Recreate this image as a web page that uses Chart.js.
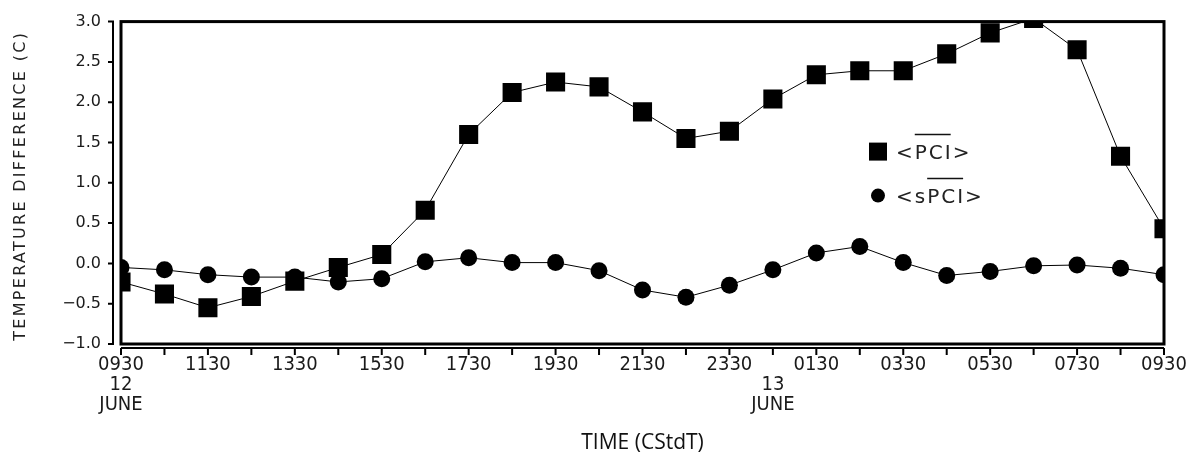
<!DOCTYPE html>
<html>
<head>
<meta charset="utf-8">
<script src="https://cdn.jsdelivr.net/npm/chart.js@4"></script>
<style>
  html, body { margin: 0; padding: 0; background: #fff; }
  #wrap { width: 1201px; height: 456px; }
</style>
</head>
<body>
<div id="wrap"><canvas id="myChartLine" width="1201" height="456"></canvas></div>
<script>
// hourly observation times, 0930 on 12 June to 0930 on 13 June
const timeCategories = ['0930','1030','1130','1230','1330','1430','1530','1630','1730','1830','1930','2030',
  '2130','2230','2330','0030','0130','0230','0330','0430','0530','0630','0730','0830','0930'];

const pciValues = [-0.23, -0.38, -0.55, -0.41, -0.22, -0.05, 0.11, 0.66, 1.60, 2.12, 2.25, 2.19,
  1.88, 1.55, 1.64, 2.04, 2.34, 2.39, 2.39, 2.60, 2.86, 3.04, 2.65, 1.33, 0.43];

const spciValues = [-0.05, -0.08, -0.14, -0.17, -0.17, -0.23, -0.19, 0.02, 0.07, 0.01, 0.01, -0.09,
  -0.33, -0.42, -0.27, -0.08, 0.13, 0.21, 0.01, -0.15, -0.10, -0.03, -0.02, -0.06, -0.14];

const seriesLabels = ['<PCI>', '<sPCI>'];
const dayTickIndex = [0, 15];
const dayTickText = [['12', 'JUNE'], ['13', 'JUNE']];

const yTitle = 'TEMPERATURE DIFFERENCE (C)';
const xTitle = 'TIME (CStdT)';

// plot box, detached axis lines and their tick marks
const framePlugin = {
  id: 'frame',
  afterDatasetsDraw(chart) {
    const { ctx, chartArea: a, scales: { x, y } } = chart;
    ctx.save();
    ctx.strokeStyle = '#000';
    ctx.lineWidth = 3;
    ctx.strokeRect(a.left, a.top, a.right - a.left, a.bottom - a.top);

    ctx.lineWidth = 2;
    ctx.beginPath();
    const ax = a.left - 8;
    ctx.moveTo(ax, a.top - 1);
    ctx.lineTo(ax, a.bottom + 1);
    y.ticks.forEach(t => {
      const py = y.getPixelForValue(t.value);
      ctx.moveTo(ax - 5, py);
      ctx.lineTo(ax, py);
    });
    const ay = a.bottom + 4;
    ctx.moveTo(a.left, ay);
    ctx.lineTo(a.right, ay);
    x.ticks.forEach((t, i) => {
      const px = x.getPixelForTick(i);
      ctx.moveTo(px, ay);
      ctx.lineTo(px, ay + 7);
    });
    ctx.stroke();
    ctx.restore();
  }
};

// legend inside the plot, with the bar over "PCI"
const legendPlugin = {
  id: 'insetLegend',
  afterDraw(chart) {
    const { ctx, chartArea: a } = chart;
    ctx.save();
    ctx.font = '20px "DejaVu Sans"';
    ctx.letterSpacing = '2px';
    ctx.strokeStyle = '#111';
    ctx.textBaseline = 'middle';
    chart.data.datasets.forEach((ds, i) => {
      const cx = a.left + 757;
      const cy = a.top + 130 + i * 44;
      ctx.fillStyle = '#000';
      if (ds.pointStyle === 'rect') {
        ctx.fillRect(cx - 9, cy - 9, 18, 18);
      } else {
        ctx.beginPath();
        ctx.arc(cx, cy, 7, 0, Math.PI * 2);
        ctx.fill();
      }
      ctx.fillStyle = '#222';
      const tx = cx + 18;
      ctx.fillText(ds.label, tx, cy + 2);
      const k = ds.label.indexOf('PCI');
      const x0 = tx + ctx.measureText(ds.label.slice(0, k)).width;
      const w = ctx.measureText('PCI').width - 2;
      ctx.lineWidth = 1.5;
      ctx.beginPath();
      ctx.moveTo(x0, cy - 17);
      ctx.lineTo(x0 + w, cy - 17);
      ctx.stroke();
    });
    ctx.restore();
  }
};

// vertical axis title with wide letter spacing
const yTitlePlugin = {
  id: 'yTitle',
  afterDraw(chart) {
    const { ctx, chartArea: a } = chart;
    ctx.save();
    ctx.font = '16px "DejaVu Sans"';
    ctx.letterSpacing = '2.3px';
    ctx.fillStyle = '#222';
    ctx.textAlign = 'center';
    ctx.textBaseline = 'middle';
    ctx.translate(21, (a.top + a.bottom) / 2 + 3);
    ctx.rotate(-Math.PI / 2);
    ctx.fillText(yTitle, 0, 0);
    ctx.restore();
  }
};

const ctx = document.getElementById('myChartLine');

new Chart(ctx, {
  type: 'line',
  data: {
    labels: timeCategories,
    datasets: [
      {
        label: seriesLabels[0],
        data: pciValues,
        borderColor: '#000',
        borderWidth: 1,
        backgroundColor: '#000',
        pointStyle: 'rect',
        pointRadius: 13.5,
        pointBorderWidth: 0,
        tension: 0,
        clip: 0
      },
      {
        label: seriesLabels[1],
        data: spciValues,
        borderColor: '#000',
        borderWidth: 1,
        backgroundColor: '#000',
        pointStyle: 'circle',
        pointRadius: 8.5,
        pointBorderWidth: 0,
        tension: 0,
        clip: 0
      }
    ]
  },
  options: {
    responsive: false,
    animation: false,
    devicePixelRatio: 1,
    layout: { padding: { top: 20, right: 37, left: 0, bottom: 0 } },
    plugins: {
      legend: { display: false },
      tooltip: { enabled: false }
    },
    scales: {
      x: {
        type: 'category',
        offset: false,
        border: { display: false },
        grid: { display: true, drawOnChartArea: false, color: 'rgba(0,0,0,0)', tickLength: 8 },
        ticks: {
          autoSkip: false,
          maxRotation: 0,
          padding: 3,
          color: '#1a1a1a',
          font: { family: '"DejaVu Sans Condensed", "DejaVu Sans"', size: 20, lineHeight: 1.0 },
          callback: function (value, index) {
            const d = dayTickIndex.indexOf(index);
            const main = index % 2 === 0 ? timeCategories[index] : '';
            if (d >= 0) return [main, ...dayTickText[d]];
            return main;
          }
        },
        title: {
          display: true,
          text: xTitle,
          color: '#111',
          font: { family: '"Open Sans"', size: 21, lineHeight: 1.2 },
          padding: { top: 0, bottom: 0 }
        },
        afterFit: scale => { scale.height = 112; }
      },
      y: {
        min: -1,
        max: 3,
        border: { display: false },
        grid: { display: true, drawOnChartArea: false, color: 'rgba(0,0,0,0)', tickLength: 8 },
        ticks: {
          stepSize: 0.5,
          padding: 12,
          color: '#1a1a1a',
          font: { family: '"DejaVu Sans"', size: 16 },
          callback: v => (v < 0 ? '\u2212' + Math.abs(v).toFixed(1) : v.toFixed(1))
        },
        afterFit: scale => { scale.width = 121; }
      }
    }
  },
  plugins: [framePlugin, legendPlugin, yTitlePlugin]
});
</script>
</body>
</html>
